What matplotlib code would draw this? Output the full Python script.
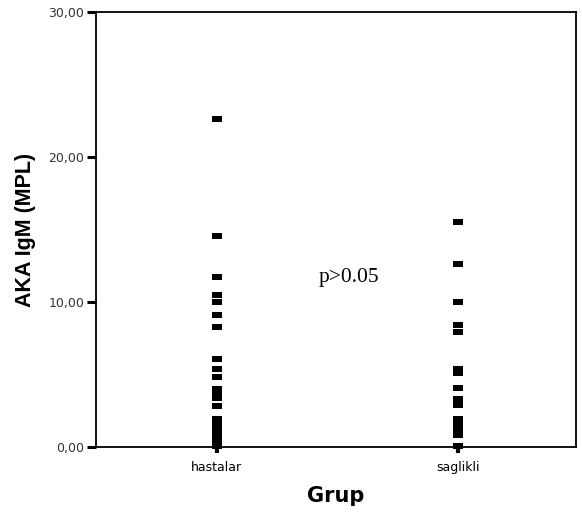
import matplotlib
matplotlib.use("Agg")
import matplotlib.pyplot as plt
from matplotlib.ticker import FuncFormatter

categories = ["hastalar", "saglikli"]
hastalar = [22.6, 14.55, 11.75, 10.5, 10.0, 9.1, 8.3, 6.05, 5.4, 4.8, 4.0, 3.7, 3.4,
            2.8, 1.9, 1.6, 1.3, 1.0, 0.7, 0.5, 0.1]
saglikli = [15.5, 12.65, 10.0, 8.4, 7.9, 5.4, 5.1, 4.1, 3.3, 2.9, 1.9, 1.5, 1.1, 0.8, 0.1]
yticks = [0, 10, 20, 30]

fig = plt.figure(figsize=(5.82, 5.15), dpi=100)
ax = fig.add_axes([96/582, 1 - 447/515, 480/582, 435/515])

rect = [(-1, -0.55), (1, -0.55), (1, 0.55), (-1, 0.55), (-1, -0.55)]
for i, vals in enumerate([hastalar, saglikli]):
    ax.plot([i] * len(vals), vals, linestyle="none", marker=rect, markersize=6.6,
            color="black", markeredgewidth=0, clip_on=False)

ax.set_xlim(-0.5, 1.49)
ax.set_ylim(0, 30)
ax.set_yticks(yticks)
ax.yaxis.set_major_formatter(FuncFormatter(lambda v, p: f"{v:.2f}".replace(".", ",")))
ax.set_xticks([0, 1])
ax.set_xticklabels(categories)
for s in ax.spines.values():
    s.set_linewidth(1.3)
ax.tick_params(axis="y", direction="out", length=6.5, width=2.2, labelsize=9,
               labelcolor="#333333", pad=2)
ax.tick_params(axis="x", direction="out", length=4, width=3, labelsize=9, pad=6)
for lab in ax.get_yticklabels() + ax.get_xticklabels():
    lab.set_family("DejaVu Sans")

ax.set_ylabel("AKA IgM (MPL)", fontsize=15.5, fontweight="bold", family="Liberation Sans",
              labelpad=9)
ax.set_xlabel("Grup", fontsize=15, fontweight="heavy", family="DejaVu Sans", labelpad=9)

ax.text(0.55, 11.7, "p>0.05", fontsize=15.5, family="Liberation Serif", ha="center",
        va="center")

fig.savefig("out.png", dpi=100)
